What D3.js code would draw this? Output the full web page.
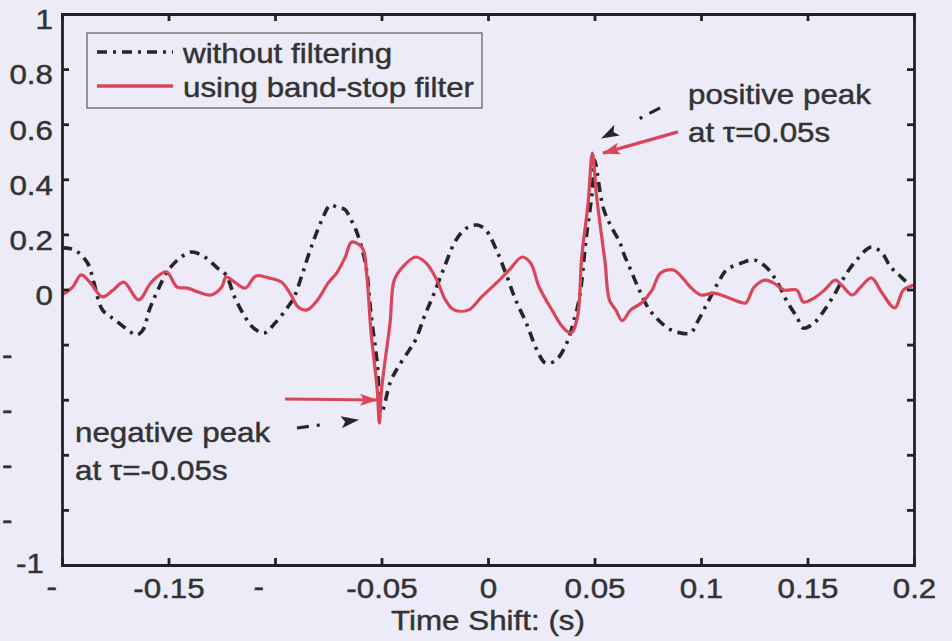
<!DOCTYPE html>
<html>
<head>
<meta charset="utf-8">
<script src="https://cdn.jsdelivr.net/npm/d3@7"></script>
<style>
  body { margin: 0; background: #ecebf7; }
  svg { display: block; font-family: Arial, "Liberation Sans", sans-serif; }
  text { fill: #333; stroke: #333; stroke-width: 0.45; }
  .axis path, .axis line { stroke: #222; stroke-width: 2.8; }
</style>
</head>
<body>
<div class="chart"></div>
<script>
var svgWidth = 952;
var svgHeight = 641;

var margin = {
  top: 14,
  right: 38,
  bottom: 76,
  left: 62
};

var width = svgWidth - margin.left - margin.right;
var height = svgHeight - margin.top - margin.bottom;

// text in the scan is a bit wider than plain Arial
var stretch = 1.12;

// series
var noFilterTime = [-0.200, -0.194, -0.188, -0.185, -0.181, -0.175, -0.169, -0.165, -0.162, -0.159,
  -0.155, -0.150, -0.144, -0.139, -0.133, -0.127, -0.123, -0.119, -0.114, -0.110,
  -0.105, -0.100, -0.094, -0.091, -0.087, -0.083, -0.078, -0.074, -0.071, -0.067,
  -0.065, -0.062, -0.059, -0.057, -0.055, -0.052, -0.050, -0.046, -0.043, -0.037,
  -0.034, -0.030, -0.026, -0.021, -0.015, -0.010, -0.005, -0.001, 0.004, 0.009,
  0.013, 0.018, 0.023, 0.027, 0.032, 0.037, 0.040, 0.043, 0.046, 0.049,
  0.050, 0.054, 0.057, 0.062, 0.064, 0.067, 0.071, 0.075, 0.080, 0.086,
  0.095, 0.098, 0.103, 0.108, 0.112, 0.119, 0.125, 0.131, 0.136, 0.140,
  0.145, 0.148, 0.153, 0.158, 0.163, 0.167, 0.173, 0.180, 0.185, 0.189,
  0.194, 0.199];
var noFilterValue = [0.151, 0.143, 0.096, 0.024, -0.074, -0.111, -0.147, -0.165, -0.147, -0.074,
  -0.002, 0.071, 0.118, 0.136, 0.118, 0.078, 0.053, -0.027, -0.100, -0.140,
  -0.158, -0.122, -0.064, -0.027, 0.060, 0.154, 0.252, 0.307, 0.299, 0.289,
  0.263, 0.216, 0.143, 0.071, -0.085, -0.267, -0.448, -0.339, -0.292, -0.220,
  -0.183, -0.100, -0.027, 0.071, 0.180, 0.223, 0.234, 0.216, 0.143, 0.045,
  -0.038, -0.122, -0.220, -0.267, -0.256, -0.194, -0.122, -0.027, 0.180, 0.361,
  0.470, 0.299, 0.241, 0.169, 0.125, 0.071, -0.002, -0.064, -0.111, -0.147,
  -0.158, -0.122, -0.049, 0.024, 0.071, 0.096, 0.107, 0.078, 0.024, -0.038,
  -0.100, -0.140, -0.122, -0.074, -0.013, 0.042, 0.107, 0.154, 0.132, 0.082,
  0.045, 0.009];

var bandStopTime = [-0.200, -0.195, -0.191, -0.187, -0.181, -0.176, -0.171, -0.164, -0.158, -0.151,
  -0.146, -0.141, -0.136, -0.130, -0.125, -0.123, -0.119, -0.114, -0.109, -0.103,
  -0.097, -0.093, -0.089, -0.085, -0.080, -0.075, -0.071, -0.067, -0.064, -0.059,
  -0.057, -0.055, -0.052, -0.051, -0.050, -0.046, -0.044, -0.040, -0.034, -0.029,
  -0.024, -0.020, -0.016, -0.009, -0.003, 0.004, 0.010, 0.016, 0.020, 0.024,
  0.030, 0.035, 0.039, 0.042, 0.044, 0.047, 0.049, 0.051, 0.055, 0.057,
  0.060, 0.063, 0.067, 0.072, 0.077, 0.081, 0.087, 0.091, 0.095, 0.100,
  0.106, 0.112, 0.118, 0.121, 0.125, 0.130, 0.134, 0.139, 0.145, 0.148,
  0.153, 0.158, 0.163, 0.166, 0.171, 0.175, 0.180, 0.185, 0.191, 0.195,
  0.200];
var bandStopValue = [-0.020, 0.009, 0.053, 0.027, -0.027, -0.002, 0.027, -0.038, 0.027, 0.064,
  0.009, 0.005, -0.009, -0.020, 0.009, 0.045, 0.027, 0.005, 0.049, 0.042,
  0.027, -0.013, -0.064, -0.074, -0.038, 0.024, 0.060, 0.118, 0.172, 0.151,
  0.060, -0.147, -0.365, -0.485, -0.365, -0.122, 0.034, 0.082, 0.118, 0.096,
  0.034, -0.038, -0.074, -0.074, -0.027, 0.024, 0.071, 0.118, 0.096, 0.009,
  -0.074, -0.136, -0.158, -0.100, 0.118, 0.314, 0.495, 0.336, 0.096, -0.038,
  -0.074, -0.113, -0.074, -0.049, -0.002, 0.060, 0.071, 0.045, 0.009, -0.020,
  -0.013, -0.027, -0.045, -0.049, 0.009, 0.034, 0.024, -0.002, -0.002, -0.045,
  -0.031, -0.002, 0.034, 0.016, -0.020, 0.009, 0.042, -0.013, -0.067, -0.002,
  0.016];

// tick values and the labels as printed (some digits are missing in the original)
var xTicks = [-0.2, -0.15, -0.1, -0.05, 0, 0.05, 0.1, 0.15, 0.2];
var xTickLabels = ["-", "-0.15", "-", "-0.05", "0", "0.05", "0.1", "0.15", "0.2"];
var yTicks = [-1, -0.8, -0.6, -0.4, -0.2, 0, 0.2, 0.4, 0.6, 0.8, 1];
var yTickLabels = ["-1", "-", "-", "-", "-", "0", "0.2", "0.4", "0.6", "0.8", "1"];

var seriesNames = ["without filtering", "using band-stop filter"];

// annotations: [time, value] of text and arrow start/tip
var annotations = [
  {lines: ["positive peak", "at \u03c4=0.05s"], t: 0.0939, v: [0.673, 0.535]},
  {lines: ["negative peak", "at \u03c4=-0.05s"], t: -0.1939, v: [-0.5535, -0.6915]}
];
var arrows = [
  {from: [0.0892, 0.572], to: [0.054, 0.495], kind: "red"},
  {from: [0.0808, 0.659], to: [0.0535, 0.550], kind: "black"},
  {from: [-0.0953, -0.3975], to: [-0.0521, -0.4011], kind: "red"},
  {from: [-0.0897, -0.5027], to: [-0.0610, -0.4737], kind: "black"}
];

var blackColor = "#262626";
var redColor = "#d9465a";
var dashDot = "10,6,3,6";

function stretchText(sel) {
  sel.each(function() {
    var t = d3.select(this);
    var x = +t.attr("x") || 0;
    t.attr("x", x / stretch).attr("transform", "scale(" + stretch + ",1)");
  });
}

var svg = d3
  .select(".chart")
  .append("svg")
  .attr("width", svgWidth)
  .attr("height", svgHeight);

var defs = svg.append("defs");
defs.append("clipPath")
  .attr("id", "plot-clip")
  .append("rect")
  .attr("width", width)
  .attr("height", height);

[["head-red", redColor], ["head-black", blackColor]].forEach(function(m) {
  defs.append("marker")
    .attr("id", m[0])
    .attr("markerUnits", "userSpaceOnUse")
    .attr("markerWidth", 18)
    .attr("markerHeight", 12)
    .attr("refX", 17)
    .attr("refY", 6)
    .attr("orient", "auto")
    .append("path")
    .attr("d", "M0,0 L18,6 L0,12 L4,6 Z")
    .attr("fill", m[1]);
});

var chartGroup = svg.append("g")
  .attr("transform", `translate(${margin.left}, ${margin.top})`);

var xScale = d3.scaleLinear().domain([-0.2, 0.2]).range([0, width]);
var yScale = d3.scaleLinear().domain([-1, 1]).range([height, 0]);

// curves
var noFilter = noFilterTime.map((t, i) => [t, noFilterValue[i]]);
var bandStop = bandStopTime.map((t, i) => [t, bandStopValue[i]]);

var line = d3.line()
  .x(d => xScale(d[0]))
  .y(d => yScale(d[1]))
  .curve(d3.curveCatmullRom.alpha(0.5));

var plot = chartGroup.append("g").attr("clip-path", "url(#plot-clip)");

plot.append("path")
  .datum(noFilter)
  .attr("d", line)
  .attr("fill", "none")
  .attr("stroke", blackColor)
  .attr("stroke-width", 3.6)
  .attr("stroke-dasharray", dashDot);

plot.append("path")
  .datum(bandStop)
  .attr("d", line)
  .attr("fill", "none")
  .attr("stroke", redColor)
  .attr("stroke-width", 3.2)
  .attr("stroke-linejoin", "round");

// axes, ticks pointing inward on all four sides
var bottomAxis = d3.axisBottom(xScale)
  .tickValues(xTicks)
  .tickFormat((d, i) => xTickLabels[i])
  .tickSizeInner(-7)
  .tickSizeOuter(0)
  .tickPadding(13);
var leftAxis = d3.axisLeft(yScale)
  .tickValues(yTicks)
  .tickFormat((d, i) => yTickLabels[i])
  .tickSizeInner(-7)
  .tickSizeOuter(0)
  .tickPadding(9);

var xAxis = chartGroup.append("g")
  .classed("axis", true)
  .attr("transform", `translate(0, ${height})`)
  .call(bottomAxis);
var yAxis = chartGroup.append("g")
  .classed("axis", true)
  .call(leftAxis);
chartGroup.append("g")
  .classed("axis", true)
  .call(d3.axisTop(xScale).tickValues(xTicks).tickFormat("").tickSizeInner(-7).tickSizeOuter(0));
chartGroup.append("g")
  .classed("axis", true)
  .attr("transform", `translate(${width}, 0)`)
  .call(d3.axisRight(yScale).tickValues(yTicks).tickFormat("").tickSizeInner(-7).tickSizeOuter(0));

chartGroup.selectAll(".axis path.domain").attr("stroke-linecap", "square");
chartGroup.selectAll(".axis text")
  .attr("font-family", null)
  .attr("font-size", 28)
  .attr("fill", "#333");

xAxis.selectAll("text")
  .filter(function() { return d3.select(this).text() === "-"; })
  .attr("text-anchor", "start")
  .attr("x", (d, i) => i === 0 ? -16 : -22)
  .attr("dy", "0.66em");
yAxis.selectAll("text").attr("dy", "0.53em");
yAxis.selectAll("text")
  .filter(function() { return d3.select(this).text() === "-"; })
  .attr("text-anchor", "start")
  .attr("x", -60)
  .attr("dy", "0.68em");
yAxis.selectAll("text")
  .filter(function() { return d3.select(this).text() === "-1"; })
  .attr("x", -18)
  .attr("dy", "0.28em");

stretchText(xAxis.selectAll("text"));
stretchText(yAxis.selectAll("text"));

chartGroup.append("text")
  .attr("x", width / 2)
  .attr("y", height + 65)
  .attr("text-anchor", "middle")
  .attr("font-size", 28)
  .text("Time Shift: (s)")
  .call(stretchText);

// legend
var legend = chartGroup.append("g")
  .attr("transform", "translate(25, 19)");
legend.append("rect")
  .attr("width", 395)
  .attr("height", 75)
  .attr("fill", "none")
  .attr("stroke", "#666")
  .attr("stroke-width", 1.3);
var legendItems = legend.selectAll("g.item")
  .data(seriesNames)
  .enter()
  .append("g")
  .attr("class", "item")
  .attr("transform", (d, i) => `translate(0, ${19 + i * 34})`);
legendItems.append("line")
  .attr("x1", 10)
  .attr("x2", 86)
  .attr("stroke", (d, i) => i === 0 ? blackColor : redColor)
  .attr("stroke-width", 3.4)
  .attr("stroke-dasharray", (d, i) => i === 0 ? dashDot : null);
legendItems.append("text")
  .attr("x", 96)
  .attr("y", 11)
  .attr("font-size", 28)
  .text(d => d)
  .call(stretchText);

// peak annotations
annotations.forEach(function(a) {
  a.lines.forEach(function(txt, i) {
    chartGroup.append("text")
      .attr("x", xScale(a.t))
      .attr("y", yScale(a.v[i]))
      .attr("font-size", 28)
      .text(txt)
      .call(stretchText);
  });
});

chartGroup.selectAll("line.arrow")
  .data(arrows)
  .enter()
  .append("line")
  .attr("class", "arrow")
  .attr("x1", d => xScale(d.from[0]))
  .attr("y1", d => yScale(d.from[1]))
  .attr("x2", d => xScale(d.to[0]))
  .attr("y2", d => yScale(d.to[1]))
  .attr("stroke", d => d.kind === "red" ? redColor : blackColor)
  .attr("stroke-width", 3.2)
  .attr("stroke-dasharray", d => d.kind === "red" ? null : "12,8,3,100")
  .attr("marker-end", d => d.kind === "red" ? "url(#head-red)" : "url(#head-black)");
</script>
</body>
</html>
